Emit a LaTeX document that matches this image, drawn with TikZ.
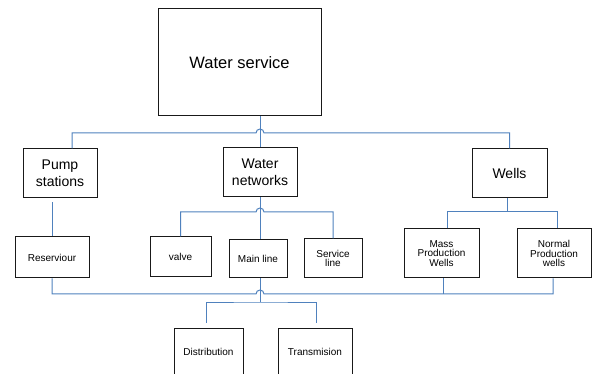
\documentclass[tikz,border=0pt]{standalone}
\usepackage{fontspec}
\setmainfont{Liberation Sans}
\definecolor{linkblue}{RGB}{79,129,189}

\begin{document}
\begin{tikzpicture}[x = 1pt, y = -1pt,
		box/.style = {draw = black!90, line width = 1pt, inner sep = 0pt, align = center},
		wire/.style = {draw = linkblue, line width = 1pt},
		bigtext/.style = {font = \fontsize{16.5}{19}\selectfont},
		midtext/.style = {font = \fontsize{14}{16.5}\selectfont},
		smalltext/.style = {font = \fontsize{10}{9.5}\selectfont}]
		\useasboundingbox (0, 0) rectangle (592, 374);

		\node (service) [box, bigtext, minimum width = 163pt, minimum height = 107pt] at (239.5, 62.5) {Water service};

		\node (pump) [box, midtext, minimum width = 74pt, minimum height = 49pt] at (60, 173.5) {Pump\\stations};
		\node (network) [box, midtext, minimum width = 74pt, minimum height = 49pt] at (260, 172.5) {Water\\networks};
		\node (wells) [box, midtext, minimum width = 75pt, minimum height = 49pt] at (509.5, 173.5) {Wells};

		\node (reservoir) [box, smalltext, minimum width = 74pt, minimum height = 41pt] at (52, 257.5) {Reserviour};
		\node (valve) [box, smalltext, minimum width = 61pt, minimum height = 40pt] at (180.5, 257) {valve};
		\node (mainline) [box, smalltext, minimum width = 58pt, minimum height = 38pt] at (258, 259) {Main line};
		\node (serviceline) [box, smalltext, minimum width = 58pt, minimum height = 39pt] at (333, 258.5) {Service\\line};
		\node (mass) [box, smalltext, minimum width = 75pt, minimum height = 49pt] at (441.5, 253.5) {Mass\\Production\\Wells};
		\node (normal) [box, smalltext, minimum width = 74pt, minimum height = 49pt] at (554, 253.5) {Normal\\Production\\wells};

		\node (distrib) [box, smalltext, minimum width = 69pt, minimum height = 48pt] at (208.5, 352) {Distribution};
		\node (transmit) [box, smalltext, minimum width = 74pt, minimum height = 48pt] at (315, 352) {Transmision};

		\coordinate (jumpA) at (260, 133);
		\coordinate (jumpB) at (260, 212);
		\coordinate (jumpC) at (260, 294);
		\coordinate (jumpD) at (260, 302);
		\coordinate (pumpout) at ([xshift = 12pt]pump.north);
		\coordinate (pumpgap) at ([yshift = -4pt]pump.south);
		\coordinate (wellsout) at ([xshift = -2pt]wells.south);
		\coordinate (massin) at ([xshift = 5.5pt]mass.north);
		\coordinate (normalin) at ([xshift = 3pt]normal.north);
		\coordinate (massout) at ([xshift = 1.5pt]mass.south);
		\coordinate (normalout) at ([xshift = -1pt]normal.south);
		\coordinate (distribin) at ([xshift = -2.5pt, yshift = 5pt]distrib.north);
		\coordinate (transmitin) at ([xshift = 1pt, yshift = 5pt]transmit.north);

		\draw [wire] (network.north) -- (network.north |- service.south);
		\draw [wire] (pumpout) |- ([xshift = -4pt]jumpA) arc [start angle = 180, end angle = 0, radius = 4pt] -- (jumpA -| wells.north) -- (wells.north);

		\draw [wire] (pumpgap -| reservoir.north) -- (reservoir.north);
		\draw [wire] (network.south) -- (network.south |- mainline.north);
		\draw [wire] (valve.north) |- ([xshift = -4pt]jumpB) arc [start angle = 180, end angle = 0, radius = 4pt] -| (serviceline.north);
		\draw [wire] (wellsout) -- (wellsout |- jumpB);
		\draw [wire] (massin) |- (normalin |- jumpB) -- (normalin);

		\draw [wire] (reservoir.south) |- ([xshift = -4pt]jumpC) arc [start angle = 180, end angle = 0, radius = 4pt] -| (normalout);
		\draw [wire] (massout) -- (massout |- jumpC);
		\draw [wire] (jumpD |- mainline.south) -- (jumpD);
		\draw [wire] (distribin) |- (jumpD) -| (transmitin);
	\end{tikzpicture}
\end{document}
